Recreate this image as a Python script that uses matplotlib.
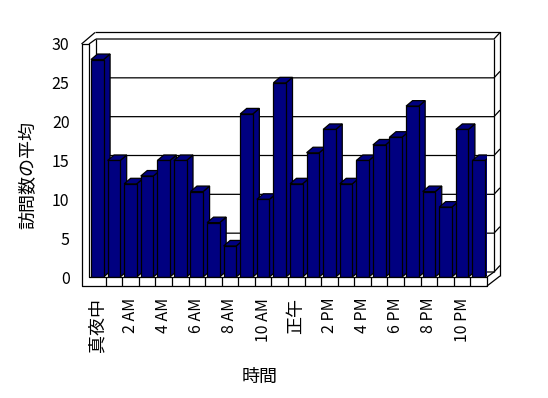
import numpy as np
import matplotlib
matplotlib.use('Agg')
import matplotlib.pyplot as plt
from matplotlib.patches import Polygon

plt.rcParams['font.family'] = ['Noto Sans CJK JP', 'DejaVu Sans']

# average visits per hour of the day
visits = [28, 15, 12, 13, 15, 15, 11, 7, 4, 21, 10, 25,
          12, 16, 19, 12, 15, 17, 18, 22, 11, 9, 19, 15]
tick_labels = ['真夜中', '2 AM', '4 AM', '6 AM', '8 AM', '10 AM',
               '正午', '2 PM', '4 PM', '6 PM', '8 PM', '10 PM']
y_ticks = [0, 5, 10, 15, 20, 25, 30]

W, H = 548, 398
L, R, T, B = 89, 487, 44, 277   # front plane of the plot box, image pixels

fig = plt.figure(figsize=(W / 100, H / 100), dpi=100)
ax = fig.add_axes([L / W, 1 - B / H, (R - L) / W, (B - T) / H])
n = len(visits)
ax.set_xlim(-0.5, n - 0.5)
ax.set_ylim(0, y_ticks[-1])
ax.patch.set_visible(False)
for s in ax.spines.values():
    s.set_visible(False)

navy = '#000080'
lw = 0.9


def seg(pts, z=1):
    # pts: (x axes frac, y axes frac, dx px, dy px down)
    xs = [p[0] + p[2] / (R - L) for p in pts]
    ys = [p[1] - p[3] / (B - T) for p in pts]
    ax.plot(xs, ys, transform=ax.transAxes, color='k', lw=lw,
            clip_on=False, zorder=z, solid_capstyle='butt')


# back wall and its thickness
wx, wy = 7, -5
ox, oy = 13, -11.5
for v in y_ticks[:-1]:
    ya = ax.transLimits.transform((0, v))[1]
    seg([(0, ya, wx, wy), (1, ya, wx, wy), (1, ya, ox, oy)])
seg([(0, 1, wx, wy), (1, 1, wx, wy), (1, 1, ox, oy)])
seg([(0, 1, 6, oy), (1, 1, ox, oy), (1, 0, ox, -1)])
seg([(1, 1, wx, wy), (1, 0, wx, wy)])
seg([(0, 1, wx, wy), (0, 0, wx, wy)])
seg([(1, 0, 0, 0), (1, 0, wx, wy)])

# bars with depth
bars = ax.bar(range(n), visits, width=0.76, color=navy, edgecolor='k', linewidth=lw)
ddx = 6.5 / (R - L) * n
ddy = 5.5 / (B - T) * y_ticks[-1]
for i, (b, v) in enumerate(zip(bars, visits)):
    x0 = b.get_x()
    x1 = x0 + b.get_width()
    top = Polygon([(x0, v), (x1, v), (x1 + ddx, v + ddy), (x0 + ddx, v + ddy)],
                  closed=True, fc=navy, ec='k', lw=lw, zorder=3 + 2 * i)
    side = Polygon([(x1, 0), (x1 + ddx, ddy), (x1 + ddx, v + ddy), (x1, v)],
                   closed=True, fc=navy, ec='k', lw=lw, zorder=3 + 2 * i)
    ax.add_patch(side)
    ax.add_patch(top)
    b.set_zorder(4 + 2 * i)

# left wall and floor front faces
fz = 200
seg([(0, 1, -7.5, 0), (0, 0, -7.5, 9), (1, 0, 0, 9), (1, 0, 0, 0), (0, 0, 0, 0), (0, 1, 0, 0),
     (0, 1, -7.5, 0)], z=fz)
seg([(0, 1, -7.5, 0), (0, 1, 6, oy)], z=fz)
seg([(0, 1, 0, 0), (0, 1, wx, wy)], z=fz)
seg([(1, 0, 0, 9), (1, 0, ox, -1)], z=fz)
for k in range(1, n):
    seg([(k / n, 0, 0, 0), (k / n, 0, 0, 9)], z=fz)

ax.set_xticks(np.arange(0, n, 2))
ax.set_xticklabels(tick_labels, rotation=90)
ax.set_yticks(y_ticks)
ax.tick_params(axis='x', length=0, pad=15, labelsize=11.5)
ax.tick_params(axis='y', length=0, pad=14, labelsize=11.5)
for t in ax.get_xticklabels():
    if not t.get_text().endswith('M'):
        t.set_fontsize(13)

fig.text(28 / W, 1 - 175 / H, '訪問数の平均', rotation=90, ha='center', va='center', fontsize=13)
fig.text(260 / W, 1 - 377 / H, '時間', ha='center', va='center', fontsize=13)

fig.savefig('out.png', dpi=100)
